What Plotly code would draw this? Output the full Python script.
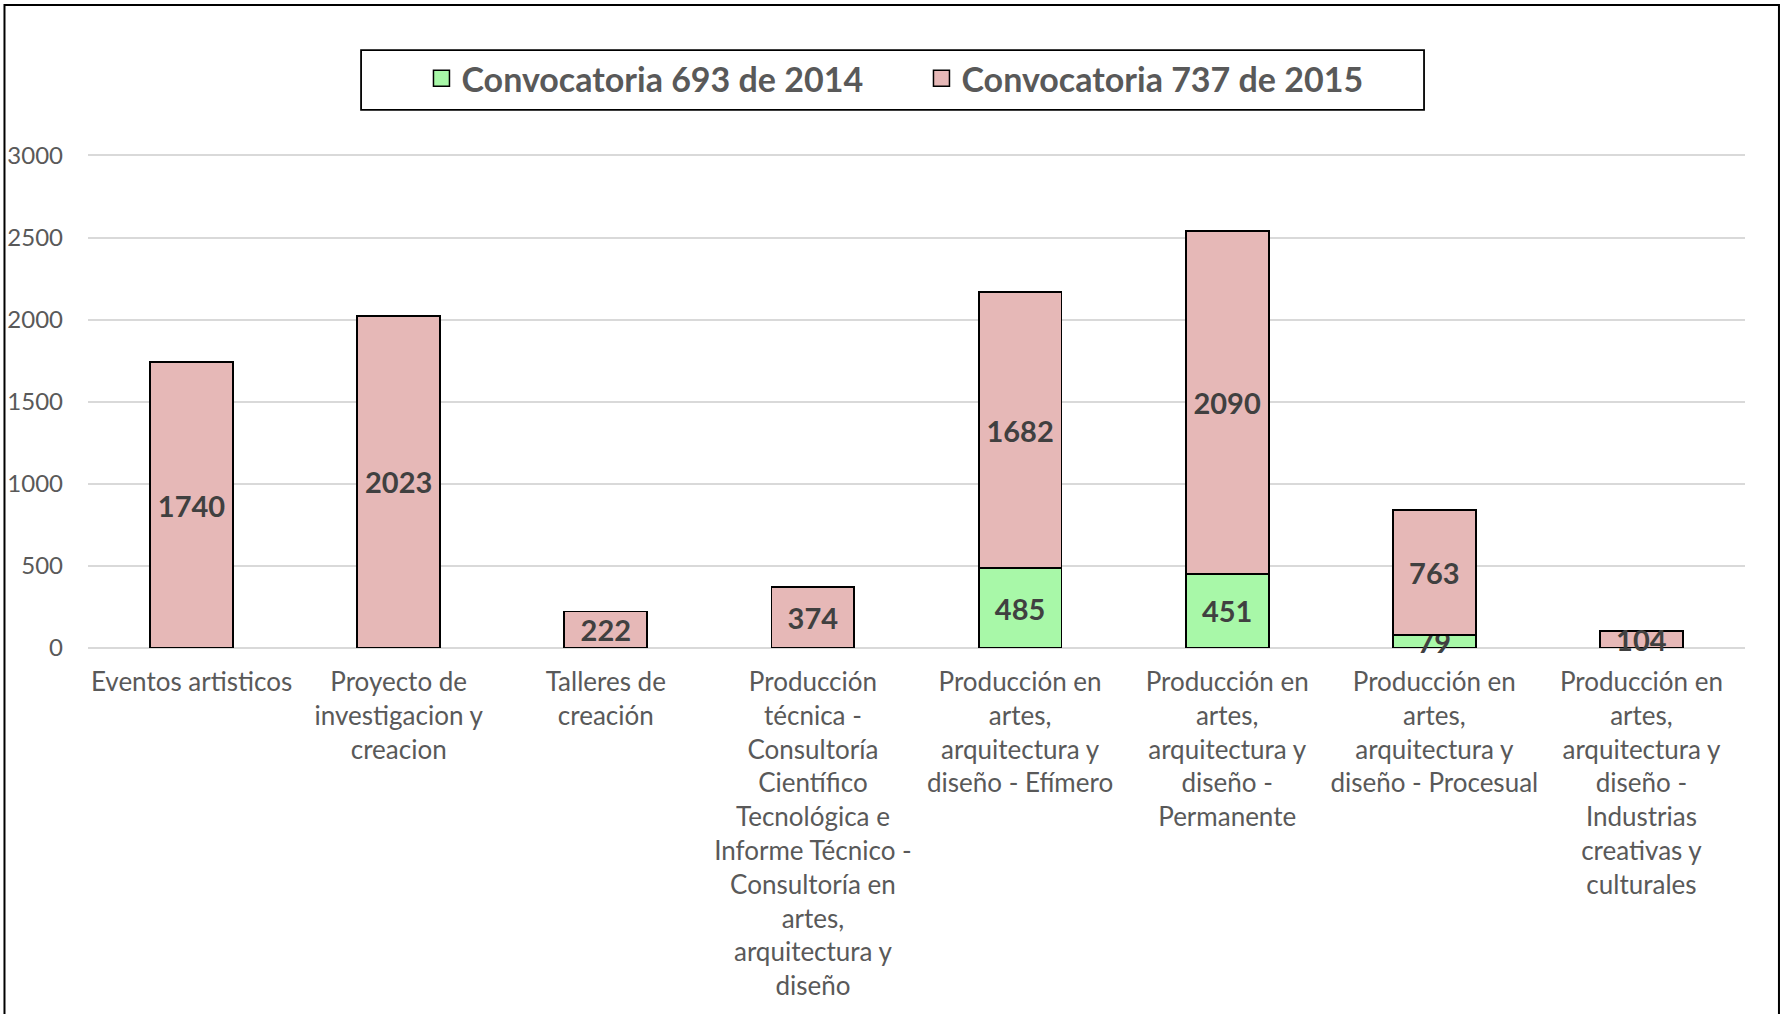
import plotly.graph_objects as go

categorias = [
    "Eventos artisticos",
    "Proyecto de<br>investigacion y<br>creacion",
    "Talleres de<br>creación",
    "Producción<br>técnica -<br>Consultoría<br>Científico<br>Tecnológica e<br>Informe Técnico -<br>Consultoría en<br>artes,<br>arquitectura y<br>diseño",
    "Producción en<br>artes,<br>arquitectura y<br>diseño - Efímero",
    "Producción en<br>artes,<br>arquitectura y<br>diseño -<br>Permanente",
    "Producción en<br>artes,<br>arquitectura y<br>diseño - Procesual",
    "Producción en<br>artes,<br>arquitectura y<br>diseño -<br>Industrias<br>creativas y<br>culturales",
]
conv_2014 = [0, 0, 0, 0, 485, 451, 79, 0]
conv_2015 = [1740, 2023, 222, 374, 1682, 2090, 763, 104]
y_ticks = [0, 500, 1000, 1500, 2000, 2500, 3000]

series = [
    ("Convocatoria 693 de 2014", conv_2014, "#A8F8A8"),
    ("Convocatoria 737 de 2015", conv_2015, "#E6B8B7"),
]

FONT = "Lato"


def etiquetas(vals):
    return [str(v) if v else "" for v in vals]


fig = go.Figure()
for nombre, vals, color in series:
    fig.add_trace(go.Bar(
        x=categorias, y=vals, name=nombre, showlegend=False,
        marker=dict(color=color, line=dict(color="black", width=1.8)),
        text=etiquetas(vals), textposition="inside", insidetextanchor="middle",
        textangle=0, constraintext="none", cliponaxis=False,
        textfont=dict(family=FONT, size=29, color="#404040", weight="bold"),
        hoverinfo="x+y+name",
    ))

# entradas de leyenda con cuadros más grandes
for nombre, vals, color in series:
    fig.add_trace(go.Scatter(
        x=[categorias[0]], y=[None], name=nombre, mode="markers",
        marker=dict(symbol="square", size=16, color=color,
                    line=dict(color="black", width=1.5)),
        hoverinfo="skip",
    ))

fig.update_layout(
    barmode="stack",
    bargap=0.6,
    width=1785, height=1014,
    margin=dict(l=88, r=40, t=153, b=366),
    plot_bgcolor="white", paper_bgcolor="white",
    font=dict(family=FONT, color="#595959"),
    showlegend=True,
    legend=dict(
        orientation="h", x=0.503, xanchor="center", y=1.15, yanchor="middle",
        font=dict(family=FONT, size=34, color="#595959", weight="bold"),
        bgcolor="rgba(0,0,0,0)", borderwidth=0,
        entrywidth=455, traceorder="normal", itemsizing="trace",
    ),
    shapes=[
        # marco exterior
        dict(type="rect", xref="paper", yref="paper",
             x0=-0.0504, x1=1.0205, y0=-1.2, y1=1.299,
             line=dict(color="black", width=2), fillcolor="rgba(0,0,0,0)"),
        # caja de la leyenda
        dict(type="rect", xref="paper", yref="paper",
             x0=0.1648, x1=0.8063, y0=1.087, y1=1.208,
             line=dict(color="black", width=1.8), fillcolor="rgba(0,0,0,0)"),
    ],
)
fig.update_xaxes(
    showgrid=False, showline=False, ticks="", automargin=False,
    tickfont=dict(family=FONT, size=26, color="#595959"),
    ticklabelstandoff=16,
)
fig.update_yaxes(
    range=[0, 3015], tickvals=y_ticks, automargin=False,
    showgrid=True, gridcolor="#D9D9D9", gridwidth=1.5,
    zeroline=True, zerolinecolor="#D9D9D9", zerolinewidth=1.5,
    showline=False, ticks="",
    tickfont=dict(family=FONT, size=24, color="#595959"),
    ticklabelstandoff=24,
)

fig.write_html("out.html", config={"displayModeBar": False},
               post_script="document.body.style.margin = '0';")
